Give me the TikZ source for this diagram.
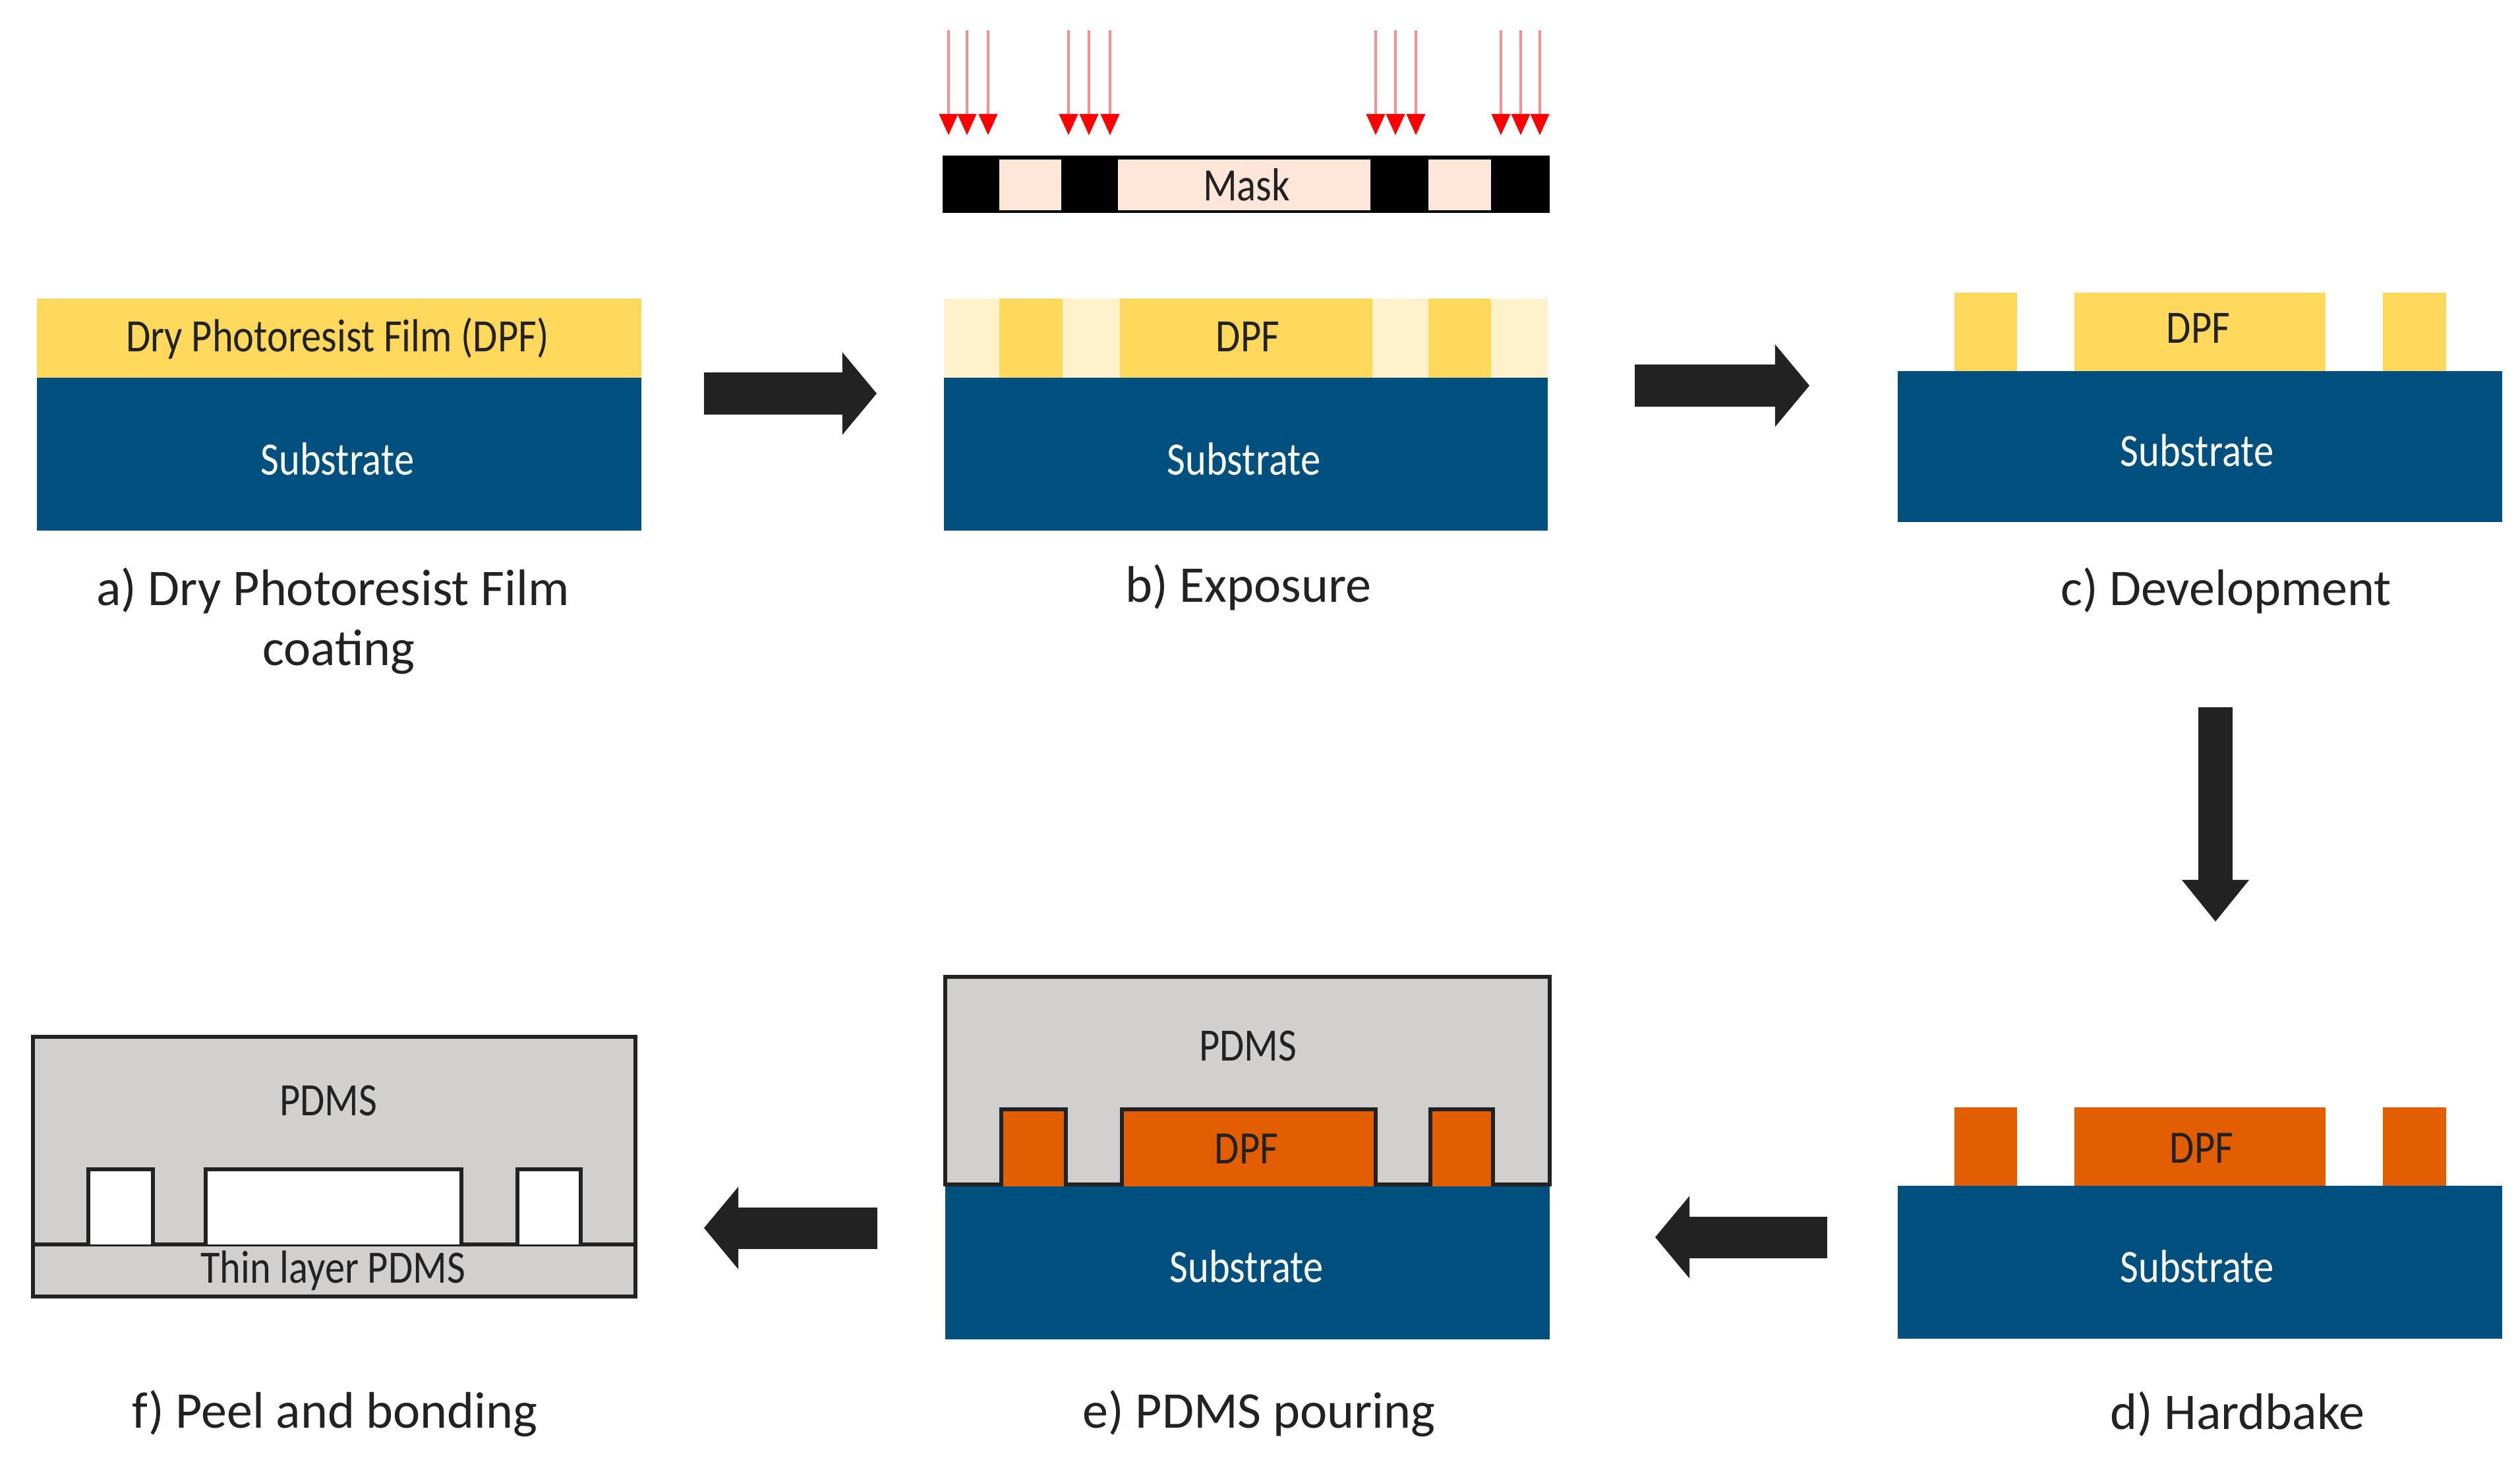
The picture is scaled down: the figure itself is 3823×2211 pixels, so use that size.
\documentclass[tikz,border=0pt]{standalone}
\usepackage{fontspec}
\setmainfont{Carlito}
\newfontfamily\thinfont[FakeStretch=.86]{Carlito}
\usetikzlibrary{arrows.meta}

\definecolor{sub-blue}{HTML}{00507F}
\definecolor{dpf-yellow}{HTML}{FFD85C}
\definecolor{dpf-pale}{HTML}{FFF1CC}
\definecolor{dpf-orange}{HTML}{E25E00}
\definecolor{pdms-grey}{HTML}{D2CFCF}
\definecolor{mask-pink}{HTML}{FFE6D9}
\definecolor{ink}{HTML}{222222}

\tikzset{
    tag/.style = {font=\thinfont\fontsize{20}{22}\selectfont, text=ink, inner sep=0pt},
    subtag/.style = {tag, text=white},
    caption/.style = {font=\fontsize{22.2}{26}\selectfont, text=ink, inner sep=0pt},
    flow/.style = {draw=ink, line width=6.3mm, -{Triangle[length=5.2mm, width=12.5mm, color=ink, fill=ink, line width=0pt]}},
    flowdown/.style = {draw=ink, line width=5.2mm, -{Triangle[length=6.3mm, width=10.2mm, color=ink, fill=ink, line width=0pt]}},
    outline/.style = {draw=ink, line width=1.5pt},
    ray/.style = {draw=red!45, line width=1pt, -{Triangle[length=3.2mm, width=2.9mm, color=red, fill=red, line width=0pt]}},
}

\begin{document}
\begin{tikzpicture}[x=.01cm, y=-.01cm]

    \path[use as bounding box] (0,0) rectangle (3823,2211);

    % a) coating
    \fill[dpf-yellow] (56,453) rectangle (973,573);
    \fill[sub-blue] (56,573) rectangle (973,805);
    \node [tag] (dpfA) at (512,513) {Dry Photoresist Film (DPF)};
    \node [subtag] (subA) at (512,696) {Substrate};
    \node [caption] (capA) at (505,896) {a) Dry Photoresist Film};
    \node [caption] (capAb) at (514,989) {coating};

    % b) exposure
    \foreach \xa/\xb in {1516/1612, 1699/2082, 2167/2262} {
        \fill[dpf-yellow] (\xa,453) rectangle (\xb,573);
    }
    \foreach \xa/\xb in {1432/1516, 1612/1699, 2082/2167, 2262/2348} {
        \fill[dpf-pale] (\xa,453) rectangle (\xb,573);
    }
    \fill[sub-blue] (1432,573) rectangle (2348,805);
    \node [tag] (dpfB) at (1893,511) {DPF};
    \node [subtag] (subB) at (1887,696) {Substrate};
    \node [caption] (capB) at (1894,891) {b) Exposure};

    \fill[black] (1430,236) rectangle (2351,323);
    \foreach \xa/\xb in {1516/1610, 1696/2079, 2167/2262} {
        \fill[mask-pink] (\xa,242) rectangle (\xb,319);
    }
    \node [tag] (mask) at (1891,280) {Mask};

    \foreach \xr in {1439, 1467, 1499, 1621, 1652, 1684, 2087, 2117, 2148, 2277, 2307, 2336} {
        \draw[ray] (\xr,46) -- (\xr,205);
    }

    % c) development
    \fill[sub-blue] (2879,563) rectangle (3796,792);
    \foreach \xa/\xb in {2965/3060, 3147/3528, 3615/3711} {
        \fill[dpf-yellow] (\xa,444) rectangle (\xb,563);
    }
    \node [tag] (dpfC) at (3335,498) {DPF};
    \node [subtag] (subC) at (3333,683) {Substrate};
    \node [caption] (capC) at (3377,896) {c) Development};

    % d) hardbake
    \fill[sub-blue] (2879,1799) rectangle (3796,2031);
    \foreach \xa/\xb in {2965/3060, 3147/3528, 3615/3711} {
        \fill[dpf-orange] (\xa,1680) rectangle (\xb,1799);
    }
    \node [tag] (dpfD) at (3340,1742) {DPF};
    \node [subtag] (subD) at (3333,1921) {Substrate};
    \node [caption] (capD) at (3394,2145) {d) Hardbake};

    % e) pouring
    \draw[outline, fill=pdms-grey] (1434,1800) -- (1434,1482) -- (2351,1482) -- (2351,1800);
    \fill[sub-blue] (1434,1800) rectangle (2351,2032);
    \draw[outline] (1434,1797) -- (2351,1797);
    \foreach \xa/\xb in {1519/1617, 1702/2087, 2170/2265} {
        \draw[outline, fill=dpf-orange] (\xa,1800) -- (\xa,1683) -- (\xb,1683) -- (\xb,1800);
    }
    \node [tag] (pdmsE) at (1893,1587) {PDMS};
    \node [tag] (dpfE) at (1891,1743) {DPF};
    \node [subtag] (subE) at (1891,1921) {Substrate};
    \node [caption] (capE) at (1910,2145) {e) PDMS pouring};

    % f) peel
    \draw[outline, fill=pdms-grey] (50,1573) rectangle (964,1967);
    \draw[outline] (50,1888) -- (964,1888);
    \foreach \xa/\xb in {134/232, 312/700, 785/881} {
        \draw[outline, fill=white] (\xa,1888) -- (\xa,1774) -- (\xb,1774) -- (\xb,1888);
    }
    \node [tag] (pdmsF) at (498,1670) {PDMS};
    \node [tag] (thin) at (505,1928) {Thin layer PDMS};
    \node [caption] (capF) at (508,2145) {f) Peel and bonding};

    % arrows between the steps
    \path (1068,597) coordinate (ab1) --++ (262,0) coordinate (ab2);
    \path (2480,585) coordinate (bc1) --++ (265,0) coordinate (bc2);
    \path (3361,1073) coordinate (cd1) --++ (0,325) coordinate (cd2);
    \path (2772,1877) coordinate (de1) --++ (-261,0) coordinate (de2);
    \path (1331,1863) coordinate (ef1) --++ (-263,0) coordinate (ef2);

    \draw[flow] (ab1) -- (ab2);
    \draw[flow] (bc1) -- (bc2);
    \draw[flowdown] (cd1) -- (cd2);
    \draw[flow] (de1) -- (de2);
    \draw[flow] (ef1) -- (ef2);

\end{tikzpicture}
\end{document}
